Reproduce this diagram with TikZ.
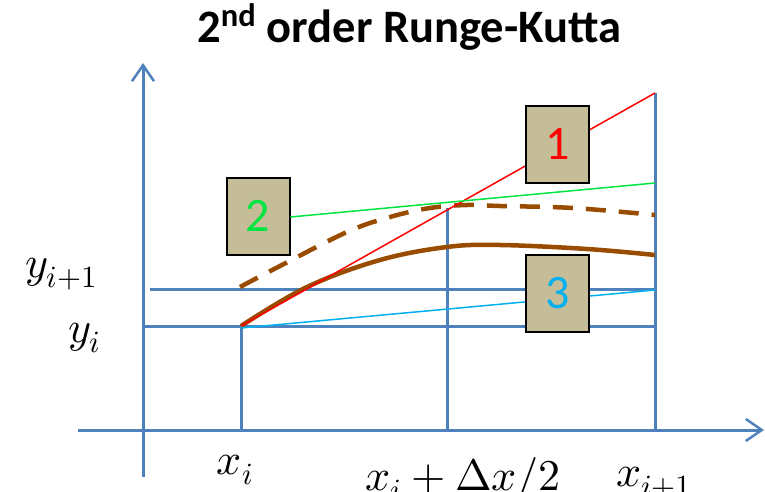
\documentclass[tikz,border=0pt]{standalone}
\usepackage{unicode-math}
\setmainfont{Carlito}
\setmathfont{Latin Modern Math}
\usetikzlibrary{arrows.meta}
\definecolor{axblue}{RGB}{79,129,189}
\definecolor{rkbrown}{RGB}{153,76,0}
\definecolor{rkgreen}{RGB}{0,230,64}
\definecolor{rkcyan}{RGB}{0,176,240}
\definecolor{boxfill}{RGB}{196,189,151}
\tikzset{
  axis/.style={draw=axblue, line width=3pt, -{Straight Barb[length=16pt,width=22pt,line width=2.5pt]}},
  grid/.style={draw=axblue, line width=3pt},
  numbox/.style={draw=black, fill=boxfill, line width=2pt, minimum width=63pt, minimum height=77pt, inner sep=0pt, font=\fontsize{48}{50}\selectfont},
  mlabel/.style={inner sep=0pt, font=\fontsize{44}{50}\selectfont},
  slope/.style={line width=1.5pt}
}
\begin{document}
\begin{tikzpicture}[x=1pt,y=-1pt]
\useasboundingbox (0,0) rectangle (765,492);
% title
\node[inner sep=0pt, anchor=base west, font=\fontsize{46.5}{50}\selectfont\bfseries] (title) at (197,43) {2\textsuperscript{nd} order Runge-Kutta};
% coordinates
\coordinate (yb) at (143,477);
\coordinate (yt) at (143,63);
\coordinate (xl) at (78,430);
\coordinate (xr) at (764,430);
\coordinate (P0) at (241,326);
\coordinate (A0) at (241,430);
\coordinate (M0) at (447,430);
\coordinate (Mt) at (447,208);
\coordinate (E0) at (655,430);
\coordinate (Et) at (655,93);
\coordinate (YiL) at (143,326);
\coordinate (YiR) at (655,326);
\coordinate (YjL) at (150,289);
\coordinate (YjR) at (655,289);
\coordinate (G1) at (655,183);
\coordinate (C0) at (241,328);
\coordinate (C1) at (655,290);
% axes
\draw[axis] (yb) -- (yt);
\draw[axis] (xl) -- (xr);
% grid lines
\draw[grid] (YiL) -- (YiR);
\draw[grid] (YjL) -- (YjR);
\draw[grid] (A0) -- (P0);
\draw[grid] (M0) -- (Mt);
\draw[grid] (E0) -- (Et);
% curves
\draw[rkbrown, line width=4.5pt, dash pattern=on 20pt off 13pt] plot[smooth, tension=0.6] coordinates {(240,287) (280,266) (347,232) (390,217) (430,208) (467,205) (500,206) (573,208) (655,215)};
\draw[rkbrown, line width=4.5pt] plot[smooth, tension=0.6] coordinates {(241,326) (307,287) (380,260) (447,247) (500,245) (587,249) (655,255)};
% box 2 (green line starts at its edge)
\node[numbox, text=rkgreen] (b2) at (258,216) {2};
% slopes
\draw[slope, red] (P0) -- (Et);
\draw[slope, rkgreen] (b2.east |- 0,217) -- (G1);
\draw[slope, rkcyan] (C0) -- (C1);
% boxes on top of slopes
\node[numbox, text=red] (b1) at (557.5,144.5) {1};
\node[numbox, text=rkcyan] (b3) at (557.5,293.5) {3};
% labels
\node[mlabel, anchor=base west] (lyj) at (25,277) {$y_{i+1}$};
\node[mlabel, anchor=base west] (lyi) at (68,342) {$y_i$};
\node[mlabel, anchor=base] (lxi) at (235,474) {$x_i$};
\node[mlabel, anchor=base] (lxm) at (463,490) {$x_i+\Delta x/2$};
\node[mlabel, anchor=base] (lxj) at (654,486) {$x_{i+1}$};
\end{tikzpicture}
\end{document}
